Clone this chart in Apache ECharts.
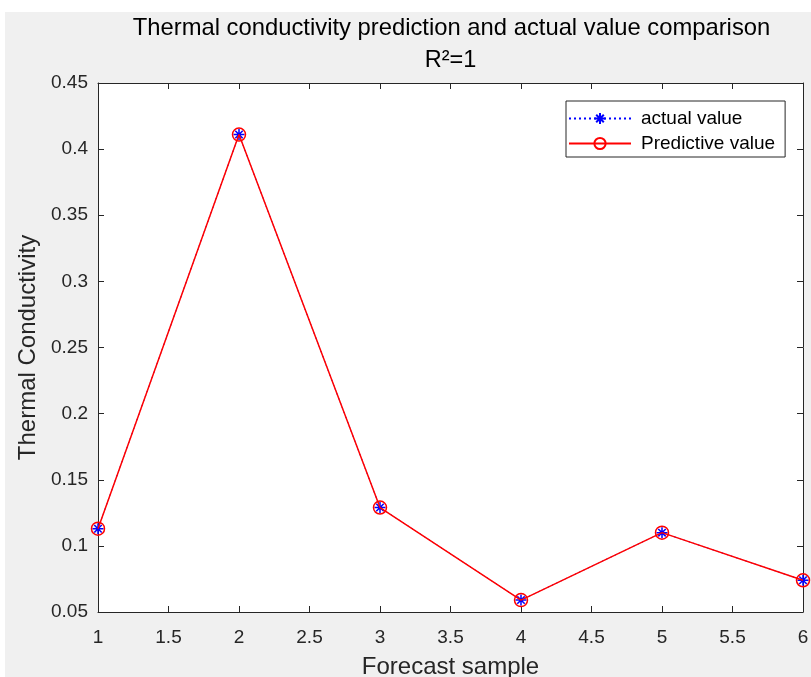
<!DOCTYPE html>
<html>
<head>
<meta charset="utf-8">
<script src="https://cdn.jsdelivr.net/npm/echarts@6/dist/echarts.min.js"></script>
<style>
html,body{margin:0;padding:0;background:#ffffff;}
#chart{position:absolute;left:5px;top:12px;width:806px;height:665px;background:#f0f0f0;}
</style>
</head>
<body>
<div id="chart"></div>
<script>
// ---- data ----
const xValues = [1, 2, 3, 4, 5, 6];
const actualValues = [0.113, 0.411, 0.129, 0.059, 0.110, 0.074];
const predictedValues = [0.113, 0.411, 0.129, 0.059, 0.110, 0.074];
const seriesNames = ['actual value', 'Predictive value'];
const titleLine1 = 'Thermal conductivity prediction and actual value comparison';
const titleLine2 = 'R²=1';
const xAxisName = 'Forecast sample';
const yAxisName = 'Thermal Conductivity';

const FONT = "'Liberation Sans', Arial, Helvetica, sans-serif";
const AX = '#262626';
const grid = {left: 93, top: 71, width: 705, height: 529};

const chart = echarts.init(document.getElementById('chart'), null, {renderer: 'canvas'});

const pairs = (ys) => xValues.map((x, i) => [x, ys[i]]);
const starPath = 'path://M5,0L5,10M0,5L10,5M1.6,1.6L8.4,8.4M1.6,8.4L8.4,1.6';

const xBase = {
  type: 'value', min: 1, max: 6, interval: 0.5,
  axisLine: {show: true, lineStyle: {color: AX, width: 1}},
  axisTick: {show: true, inside: true, length: 6, lineStyle: {color: AX}},
  splitLine: {show: false}
};
const yBase = {
  type: 'value', min: 0.05, max: 0.45, interval: 0.05,
  axisLine: {show: true, lineStyle: {color: AX, width: 1}},
  axisTick: {show: true, inside: true, length: 6, lineStyle: {color: AX}},
  splitLine: {show: false}
};

chart.setOption({
  animation: false,
  backgroundColor: '#f0f0f0',
  textStyle: {fontFamily: FONT},
  grid: Object.assign({show: true, backgroundColor: '#ffffff', borderWidth: 0,
    containLabel: false, outerBoundsMode: 'none'}, grid),
  graphic: [
    {type: 'text', x: grid.left + grid.width / 2 + 1, y: 16,
     style: {text: titleLine1, font: '23.8px ' + FONT, fill: '#000', textAlign: 'center', textVerticalAlign: 'middle'}},
    {type: 'text', x: grid.left + grid.width / 2, y: 49,
     style: {text: titleLine2, font: '23.5px ' + FONT, fill: '#000', textAlign: 'center', textVerticalAlign: 'middle'}}
  ],
  legend: {
    orient: 'vertical', left: 561, top: 89,
    padding: [8, 10, 4, 2],
    itemWidth: 62, itemHeight: 14, itemGap: 6,
    backgroundColor: '#ffffff', borderColor: AX, borderWidth: 1,
    textStyle: {fontFamily: FONT, fontSize: 19, color: '#000', padding: [0, 0, 0, 5]},
    data: seriesNames
  },
  xAxis: [
    Object.assign({}, xBase, {
      position: 'bottom', name: xAxisName, nameLocation: 'middle', nameGap: 43,
      nameTextStyle: {fontFamily: FONT, fontSize: 24, color: AX},
      axisLabel: {show: true, margin: 16, color: AX, fontFamily: FONT, fontSize: 19,
        formatter: v => String(+v.toFixed(2))}
    }),
    Object.assign({}, xBase, {position: 'top', axisLabel: {show: false}})
  ],
  yAxis: [
    Object.assign({}, yBase, {
      position: 'left', name: yAxisName, nameLocation: 'middle', nameGap: 53,
      nameTextStyle: {fontFamily: FONT, fontSize: 24, color: AX},
      axisLabel: {show: true, margin: 10, color: AX, fontFamily: FONT, fontSize: 19,
        formatter: v => String(+v.toFixed(2))}
    }),
    Object.assign({}, yBase, {position: 'right', axisLabel: {show: false}})
  ],
  series: [
    {
      name: seriesNames[0], type: 'line', xAxisIndex: 0, yAxisIndex: 0,
      data: pairs(actualValues),
      symbol: starPath, symbolSize: 11, showAllSymbol: true,
      lineStyle: {color: '#0000ff', width: 1, type: [2, 3]},
      itemStyle: {color: 'none', borderColor: '#0000ff', borderWidth: 1.5},
      z: 2
    },
    {
      name: seriesNames[1], type: 'line', xAxisIndex: 0, yAxisIndex: 0,
      data: pairs(predictedValues),
      symbol: 'circle', symbolSize: 13, showAllSymbol: true,
      lineStyle: {color: '#ff0000', width: 1.5, type: 'solid'},
      itemStyle: {color: 'rgba(0,0,0,0)', borderColor: '#ff0000', borderWidth: 1.5},
      z: 3
    }
  ]
});
</script>
</body>
</html>
